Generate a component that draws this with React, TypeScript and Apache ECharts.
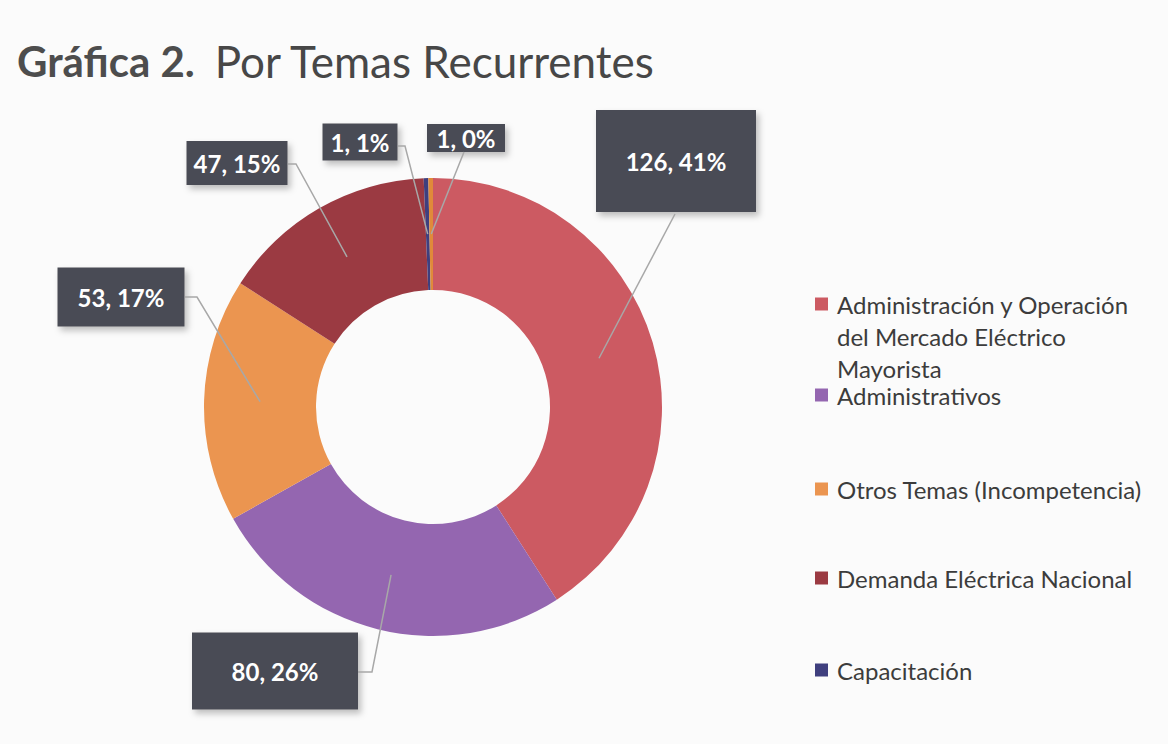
import React, { useEffect, useRef } from "react";
import * as echarts from "echarts";

// ---- data ----
const categories = [
  "Administración y Operación del Mercado Eléctrico Mayorista",
  "Administrativos",
  "Otros Temas (Incompetencia)",
  "Demanda Eléctrica Nacional",
  "Capacitación",
  "Otros",
];
const legendLabels = [
  "Administración y Operación\ndel Mercado Eléctrico\nMayorista",
  "Administrativos",
  "Otros Temas (Incompetencia)",
  "Demanda Eléctrica Nacional",
  "Capacitación",
];
const values = [126, 80, 53, 47, 1, 1];
const percents = [41, 26, 17, 15, 1, 0];
const titleBold = "Gráfica 2.";
const titleRest = "Por Temas Recurrentes";

// ---- styling / layout ----
const colors = ["#cc5a62", "#9466b0", "#eb9550", "#9b3a42", "#3f3f7e", "#e08a3a"];
const CX = 433;
const CY = 407;
const R_IN = 117;
const R_OUT = 229;
const labelBoxes = [
  { cx: 676, cy: 161, w: 160, h: 102, bend: [675, 214], end: [675, 214] },
  { cx: 275, cy: 671, w: 166, h: 77, bend: [372, 672], end: [358, 672] },
  { cx: 121, cy: 297, w: 127, h: 59, bend: [197, 297], end: [185, 297] },
  { cx: 237, cy: 163, w: 101, h: 44, bend: [296, 164], end: [288, 164] },
  { cx: 360, cy: 142, w: 75, h: 37, bend: [405, 146], end: [398, 146] },
  { cx: 466, cy: 138, w: 78, h: 28, bend: [464, 152], end: [464, 152] },
];
const legendIconY = [304, 395, 489, 578, 670];
const LEGEND_LH = 32;
const FONT = "Lato, 'Open Sans', sans-serif";

export default function App() {
  const ref = useRef<HTMLDivElement>(null);
  useEffect(() => {
    if (!ref.current) return;
    const chart = echarts.init(ref.current, null, { renderer: "svg" });
    const total = values.reduce((a, b) => a + b, 0);
    const midR = (R_IN + R_OUT) / 2;

    const sliceData = values.map((v, i) => ({
      name: categories[i],
      value: v,
      itemStyle: { color: colors[i] },
      label: { width: labelBoxes[i].w, lineHeight: labelBoxes[i].h },
    }));

    // leader lines: from the middle of each slice (angle derived from values) to its label box
    let cum = 0;
    const leaderLines = values.map((v, i) => {
      const mid = ((cum + v / 2) / total) * Math.PI * 2;
      cum += v;
      const sx = CX + midR * Math.sin(mid);
      const sy = CY - midR * Math.cos(mid);
      const b = labelBoxes[i];
      return {
        type: "polyline",
        z: 10,
        silent: true,
        shape: { points: [[sx, sy], b.bend, b.end] },
        style: { stroke: "#a8a8a8", lineWidth: 1.5, fill: "none" },
      };
    });

    const legends = legendLabels.map((lab, i) => {
      const lines = lab.split("\n");
      const extra = lines.length - 1;
      const shown = extra > 0 ? "\n".repeat(extra) + lab : lab;
      const totalLines = lines.length + extra;
      return {
        orient: "vertical" as const,
        left: 815,
        top: legendIconY[i] - (totalLines * LEGEND_LH) / 2,
        padding: 0,
        itemWidth: 13,
        itemHeight: 13,
        icon: "rect",
        selectedMode: false,
        data: [categories[i]],
        formatter: () => shown,
        textStyle: {
          fontFamily: FONT,
          fontSize: 24,
          color: "#3c3c3c",
          lineHeight: LEGEND_LH,
          padding: [0, 0, 0, 4],
        },
      };
    });

    chart.setOption({
      animation: false,
      backgroundColor: "#fbfbfb",
      title: {
        left: 12,
        top: 34,
        text: `{b|${titleBold}}{r|${titleRest}}`,
        textStyle: {
          fontWeight: "normal",
          rich: {
            b: {
              fontFamily: FONT,
              fontSize: 42,
              fontWeight: "bold",
              color: "#4d4d4d",
              padding: [0, 20, 0, 0],
            },
            r: { fontFamily: FONT, fontSize: 44, fontWeight: "normal", color: "#474747" },
          },
        },
      },
      legend: legends,
      graphic: leaderLines,
      series: [
        {
          type: "pie",
          center: [CX, CY],
          radius: [R_IN, R_OUT],
          startAngle: 90,
          clockwise: true,
          avoidLabelOverlap: false,
          itemStyle: { borderWidth: 0 },
          emphasis: { disabled: true },
          label: {
            show: true,
            position: "outside",
            formatter: (p: any) => `${p.value}, ${percents[p.dataIndex]}%`,
            fontFamily: FONT,
            fontSize: 24,
            fontWeight: "bold",
            color: "#ffffff",
            align: "center",
            backgroundColor: "#4a4b55",
            shadowColor: "rgba(0,0,0,0.25)",
            shadowBlur: 6,
            shadowOffsetX: 3,
            shadowOffsetY: 4,
          },
          labelLine: { show: false },
          labelLayout: (params: any) => {
            const b = labelBoxes[params.dataIndex];
            return { x: b.cx, y: b.cy, align: "center", verticalAlign: "middle" };
          },
          data: sliceData,
        },
      ],
    });
    return () => chart.dispose();
  }, []);
  return (
    <div
      ref={ref}
      style={{ position: "fixed", left: 0, top: 0, width: 1168, height: 744 }}
    />
  );
}
